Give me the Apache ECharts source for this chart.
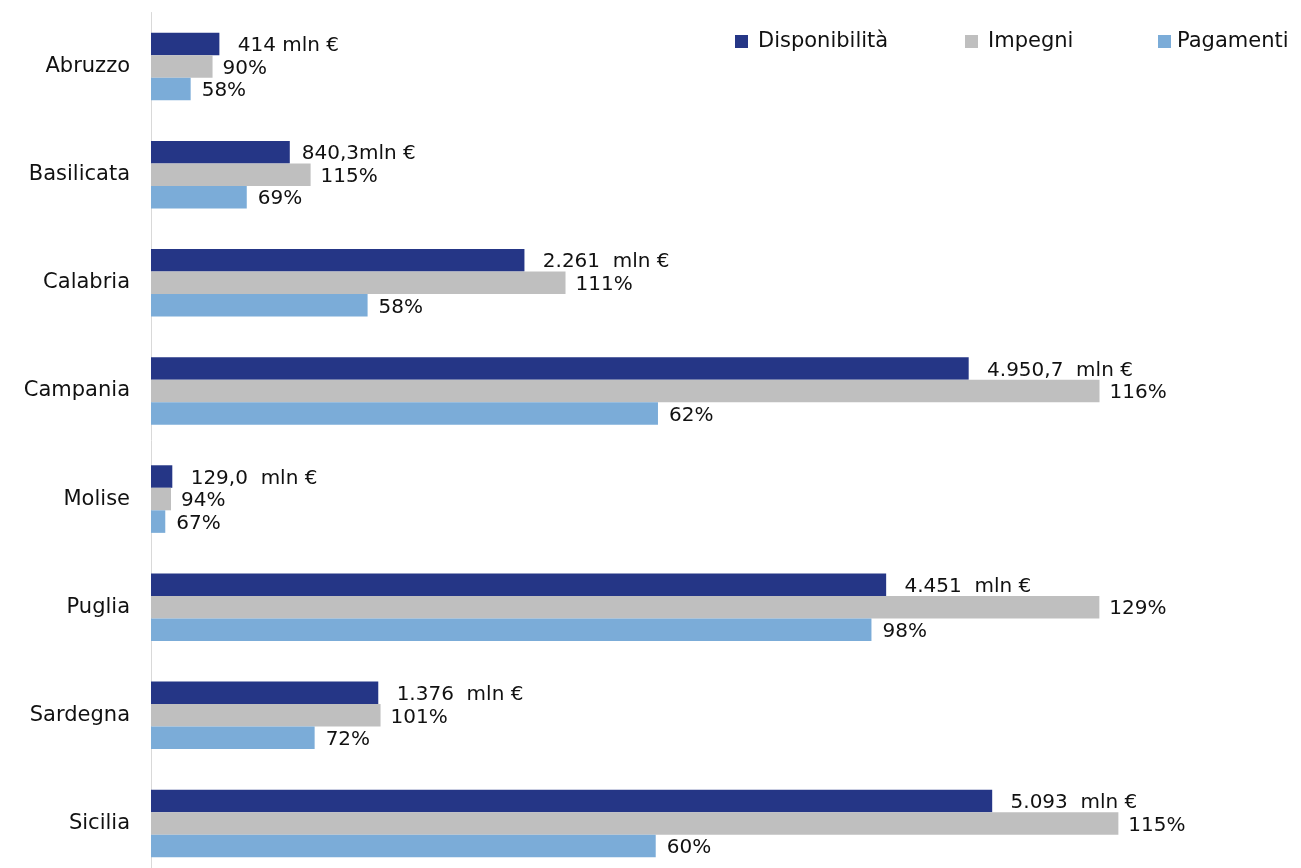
<!DOCTYPE html>
<html>
<head>
<meta charset="utf-8">
<script src="https://cdn.jsdelivr.net/npm/echarts@6/dist/echarts.min.js"></script>
<style>
  html, body { margin: 0; padding: 0; background: #fff; }
  #chart { width: 1301px; height: 868px; }
</style>
</head>
<body>
<div id="chart"></div>
<script>
// Regioni
const regioni = ['Abruzzo', 'Basilicata', 'Calabria', 'Campania', 'Molise', 'Puglia', 'Sardegna', 'Sicilia'];
// Disponibilità in milioni di euro
const disponibilita = [414, 840.3, 2261, 4950.7, 129.0, 4451, 1376, 5093];
// Etichette della disponibilità
const etichetteDisp = [' 414 mln €', '840,3mln €', ' 2.261  mln €', ' 4.950,7  mln €', ' 129,0  mln €', ' 4.451  mln €', ' 1.376  mln €', ' 5.093  mln €'];
// Impegni e pagamenti in % della disponibilità
const impegniPct = [90, 115, 111, 116, 94, 129, 101, 115];
const pagamentiPct = [58, 69, 58, 62, 67, 98, 72, 60];

// importi in mln € derivati dalle percentuali
const impegni = disponibilita.map((d, i) => d * impegniPct[i] / 100);
const pagamenti = disponibilita.map((d, i) => d * pagamentiPct[i] / 100);

const FONT = 'DejaVu Sans';
const chart = echarts.init(document.getElementById('chart'));

const labelBase = { show: true, position: 'right', color: '#111', fontFamily: FONT, fontSize: 20, offset: [0, 2] };

function legendAt(name, left, gap) {
  return {
    data: [name], left: left, top: 26, icon: 'rect', itemWidth: 13, itemHeight: 13, itemGap: 0,
    textStyle: { fontFamily: FONT, fontSize: 21, color: '#111', padding: [0, 0, 0, gap] },
    selectedMode: false
  };
}

chart.setOption({
  animation: false,
  legend: [legendAt('Disponibilità', 730, 5), legendAt('Impegni', 960, 5), legendAt('Pagamenti', 1153, 1)],
  // the plot area runs past the bottom edge, so the last band is cut
  grid: { left: 151, width: 991, top: 12.5, height: 865, containLabel: false, outerBoundsMode: 'none' },
  xAxis: { type: 'value', min: 0, max: 6000, show: false },
  yAxis: {
    type: 'category', data: regioni, inverse: true,
    axisTick: { show: false },
    axisLine: { lineStyle: { color: '#D9D9D9', width: 1 } },
    axisLabel: { fontFamily: FONT, fontSize: 21, color: '#111', margin: 21 }
  },
  series: [
    {
      name: 'Disponibilità', type: 'bar', data: disponibilita,
      barGap: '0%', barCategoryGap: '37.5%',
      itemStyle: { color: '#253686' },
      label: Object.assign({}, labelBase, { distance: 12, formatter: p => etichetteDisp[p.dataIndex] })
    },
    {
      name: 'Impegni', type: 'bar', data: impegni,
      itemStyle: { color: '#BFBFBF' },
      label: Object.assign({}, labelBase, { distance: 10, formatter: p => impegniPct[p.dataIndex] + '%' })
    },
    {
      name: 'Pagamenti', type: 'bar', data: pagamenti,
      itemStyle: { color: '#7BACD8' },
      label: Object.assign({}, labelBase, { distance: 11, formatter: p => pagamentiPct[p.dataIndex] + '%' })
    }
  ]
});
</script>
</body>
</html>
